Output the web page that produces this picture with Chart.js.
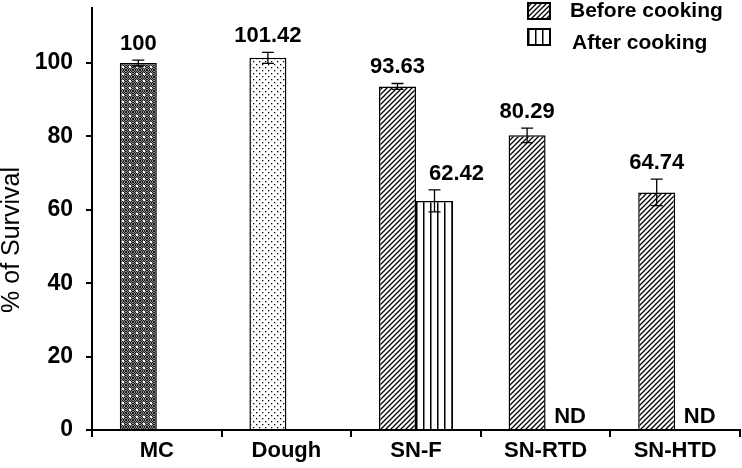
<!DOCTYPE html>
<html>
<head>
<meta charset="utf-8">
<script src="https://cdn.jsdelivr.net/npm/chart.js@4.4.0/dist/chart.umd.min.js"></script>
<style>
  html, body { margin: 0; padding: 0; background: #fff; }
  #wrap { width: 742px; height: 468px; }
</style>
</head>
<body>
<div id="wrap"><canvas id="survivalChart" width="742" height="468"></canvas></div>
<script>
// Data
const categories = ["MC", "Dough", "SN-F", "SN-RTD", "SN-HTD"];
const beforeValues = [100, 101.42, 93.63, 80.29, 64.74];
const beforeErrors = [0.8, 1.5, 0.8, 2.0, 3.6];
const afterValues = [null, null, 62.42, null, null];
const afterErrors = [null, null, 3.0, null, null];
const notDetected = [false, false, false, true, true];
const yTicks = [0, 20, 40, 60, 80, 100];

const FONT = "Arial, 'Liberation Sans', sans-serif";

// Fill patterns
function makePattern(w, h, draw) {
  const c = document.createElement("canvas");
  c.width = w;
  c.height = h;
  const g = c.getContext("2d");
  g.fillStyle = "#fff";
  g.fillRect(0, 0, w, h);
  draw(g);
  return document.getElementById("survivalChart").getContext("2d").createPattern(c, "repeat");
}

// dark crosshatch with white dots (MC)
const mcPattern = makePattern(7, 7, function (g) {
  for (let x = 0; x < 7; x++) {
    for (let y = 0; y < 7; y++) {
      g.fillStyle = (x + y) % 2 === 0 ? "#1a1a1a" : "#8c8c8c";
      g.fillRect(x, y, 1, 1);
    }
  }
  g.fillStyle = "#fff";
  g.fillRect(3, 3, 2, 2);
});

// sparse dots (Dough)
const doughPattern = makePattern(6, 6, function (g) {
  g.fillStyle = "#000";
  g.fillRect(1, 1, 1.3, 1.3);
  g.fillRect(4, 4, 1.3, 1.3);
});

// diagonal hatch (before cooking)
const diagPattern = makePattern(5, 5, function (g) {
  g.strokeStyle = "#000";
  g.lineWidth = 1.3;
  g.beginPath();
  g.moveTo(-1, 6); g.lineTo(6, -1);
  g.moveTo(-1, 1); g.lineTo(1, -1);
  g.moveTo(4, 6); g.lineTo(6, 4);
  g.stroke();
});

// vertical lines (after cooking)
const vertPattern = makePattern(7, 7, function (g) {
  g.fillStyle = "#000";
  g.fillRect(3, 0, 1.5, 7);
});

const beforeFills = [mcPattern, doughPattern, diagPattern, diagPattern, diagPattern];

// Error bars, value labels, ND marks, axis title and legend
const overlay = {
  id: "overlay",
  afterDatasetsDraw(chart) {
    const ctx = chart.ctx;
    const yScale = chart.scales.y;
    const sets = [
      [0, beforeValues, beforeErrors],
      [1, afterValues, afterErrors],
    ];
    ctx.save();
    sets.forEach(function ([di, vals, errs]) {
      const meta = chart.getDatasetMeta(di);
      meta.data.forEach(function (bar, i) {
        const x = bar.x;
        if (vals[i] == null) {
          if (di === 1 && notDetected[i]) {
            ctx.fillStyle = "#000";
            ctx.font = "bold 22px " + FONT;
            ctx.textAlign = "center";
            ctx.textBaseline = "alphabetic";
            ctx.fillText("ND", x + 6, yScale.getPixelForValue(0) - 7);
          }
          return;
        }
        const top = yScale.getPixelForValue(vals[i] + errs[i]);
        const bot = yScale.getPixelForValue(vals[i] - errs[i]);
        ctx.strokeStyle = "#000";
        ctx.lineWidth = 1.3;
        ctx.beginPath();
        ctx.moveTo(x, top); ctx.lineTo(x, bot);
        ctx.moveTo(x - 6, top); ctx.lineTo(x + 6, top);
        ctx.moveTo(x - 6, bot); ctx.lineTo(x + 6, bot);
        ctx.stroke();

        ctx.fillStyle = "#000";
        ctx.font = "bold 22px " + FONT;
        ctx.textAlign = "center";
        ctx.textBaseline = "alphabetic";
        ctx.fillText(String(vals[i]), x + (di === 1 ? 22 : 0), top - 10);
      });
    });
    ctx.restore();
  },
  afterDraw(chart) {
    const ctx = chart.ctx;
    ctx.save();
    // y axis title
    ctx.translate(12, 240);
    ctx.rotate(-Math.PI / 2);
    ctx.fillStyle = "#000";
    ctx.font = "25px " + FONT;
    ctx.textAlign = "center";
    ctx.textBaseline = "middle";
    ctx.fillText("% of Survival", 0, 0);
    ctx.restore();

    // legend
    ctx.save();
    const items = [
      { fill: diagPattern, label: "Before cooking", bx: 528, by: 3, tx: 570, ty: 11 },
      { fill: vertPattern, label: "After cooking", bx: 528, by: 29, tx: 572, ty: 43 },
    ];
    items.forEach(function (it) {
      ctx.fillStyle = it.fill;
      ctx.fillRect(it.bx, it.by, 22, 16);
      ctx.strokeStyle = "#000";
      ctx.lineWidth = 2;
      ctx.strokeRect(it.bx, it.by, 22, 16);
      ctx.fillStyle = "#000";
      ctx.font = "bold 21px " + FONT;
      ctx.textAlign = "left";
      ctx.textBaseline = "middle";
      ctx.fillText(it.label, it.tx, it.ty);
    });
    ctx.restore();
  },
};

document.addEventListener("DOMContentLoaded", function () {
  const ctx = document.getElementById("survivalChart").getContext("2d");
  new Chart(ctx, {
    type: "bar",
    data: {
      labels: categories,
      datasets: [
        {
          label: "Before cooking",
          data: beforeValues,
          backgroundColor: beforeFills,
          borderColor: "#000",
          borderWidth: 1.5,
        },
        {
          label: "After cooking",
          data: afterValues,
          backgroundColor: vertPattern,
          borderColor: "#000",
          borderWidth: 1.5,
        },
      ],
    },
    options: {
      responsive: false,
      animation: false,
      categoryPercentage: 0.571,
      barPercentage: 1,
      layout: {
        padding: { top: 8, right: 2, left: 0, bottom: 0 },
      },
      plugins: {
        legend: { display: false },
        tooltip: { enabled: false },
      },
      scales: {
        x: {
          grid: {
            offset: true,
            drawOnChartArea: false,
            color: "#000",
            lineWidth: 2,
            tickLength: 7,
          },
          border: { color: "#000", width: 2 },
          ticks: {
            color: "#000",
            font: { family: FONT, size: 22, weight: "bold" },
            padding: 1,
          },
          afterFit: function (scale) {
            scale.height = 38;
            scale.paddingLeft = 0;
            scale.paddingRight = 0;
          },
        },
        y: {
          min: 0,
          max: 115,
          bounds: "data",
          afterBuildTicks: function (scale) {
            scale.ticks = yTicks.map(function (v) { return { value: v }; });
          },
          grid: {
            drawOnChartArea: false,
            color: "#000",
            lineWidth: 2,
            tickLength: 6,
          },
          border: { color: "#000", width: 2 },
          ticks: {
            color: "#000",
            font: { family: FONT, size: 23, weight: "bold" },
            padding: 13,
          },
          afterFit: function (scale) {
            scale.width = 92;
            scale.paddingTop = 0;
            scale.paddingBottom = 0;
          },
        },
      },
    },
    plugins: [overlay],
  });
});
</script>
</body>
</html>
